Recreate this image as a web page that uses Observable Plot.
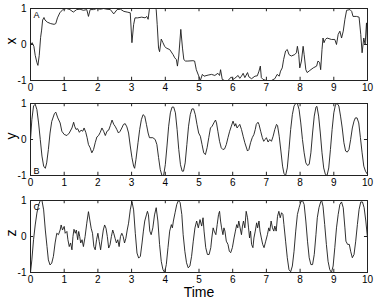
<!DOCTYPE html>
<html>
<head>
<meta charset="utf-8">
<script src="https://cdn.jsdelivr.net/npm/d3@7"></script>
<script src="https://cdn.jsdelivr.net/npm/@observablehq/plot@0.6"></script>
<style>
  html, body { margin: 0; padding: 0; background: #fff; }
  #chart svg { display: block; }
</style>
</head>
<body>
<div id="chart"></div>
<script>
const xTicks = [0, 1, 2, 3, 4, 5, 6, 7, 8, 9, 10];
const yTicks = [-1, 0, 1];
const panelLabels = ["x", "y", "z"];
const panelLetters = ["A", "B", "C"];
const xAxisTitle = "Time";

const seriesX = [[0,0.0],[0.05,0.05],[0.1,-0.05],[0.14,-0.3],[0.19,-0.5],[0.22,-0.58],[0.26,-0.3],[0.3,0.2],[0.33,0.4],[0.36,0.68],[0.4,0.75],[0.43,0.68],[0.5,0.62],[0.6,0.58],[0.7,0.56],[0.75,0.58],[0.8,0.74],[0.87,0.88],[0.97,0.98],[1.07,1.0],[1.17,0.97],[1.27,0.9],[1.37,0.97],[1.47,0.98],[1.57,0.95],[1.67,0.97],[1.72,0.78],[1.77,0.97],[1.87,0.97],[1.97,1.0],[2.07,0.98],[2.17,1.0],[2.27,0.98],[2.37,0.97],[2.47,0.85],[2.57,0.97],[2.67,0.98],[2.77,0.92],[2.87,0.9],[2.96,0.88],[3.01,0.05],[3.06,0.55],[3.1,0.74],[3.18,0.74],[3.3,0.76],[3.4,0.74],[3.45,0.78],[3.49,0.7],[3.53,1.0],[3.6,1.0],[3.7,1.0],[3.73,0.97],[3.76,0.55],[3.8,-0.1],[3.83,-0.2],[3.88,0.15],[3.93,0.05],[3.98,-0.05],[4.03,-0.1],[4.13,-0.14],[4.23,-0.28],[4.28,-0.37],[4.33,-0.42],[4.36,-0.6],[4.4,-0.32],[4.46,0.42],[4.51,-0.1],[4.55,-0.42],[4.6,-0.46],[4.67,-0.46],[4.82,-0.45],[4.87,-0.46],[4.92,-0.7],[4.99,-0.87],[5.04,-1.0],[5.1,-0.83],[5.15,-0.88],[5.27,-0.85],[5.37,-0.83],[5.47,-0.86],[5.56,-0.8],[5.61,-0.86],[5.64,-0.7],[5.69,-0.97],[5.76,-1.0],[5.86,-1.0],[5.96,-0.9],[6.01,-0.97],[6.06,-0.94],[6.16,-0.86],[6.21,-0.94],[6.26,-0.88],[6.31,-0.8],[6.36,-0.92],[6.44,-0.78],[6.48,-0.9],[6.56,-0.95],[6.66,-0.88],[6.73,-0.87],[6.78,-0.74],[6.82,-0.6],[6.85,-0.92],[6.9,-0.97],[7.0,-1.0],[7.15,-1.0],[7.25,-0.95],[7.32,-0.83],[7.38,-0.88],[7.42,-0.74],[7.47,-0.65],[7.51,-0.42],[7.57,-0.18],[7.62,-0.14],[7.67,-0.28],[7.74,-0.32],[7.84,-0.28],[7.89,-0.23],[7.92,-0.05],[7.96,-0.28],[7.99,-0.65],[8.04,-0.46],[8.09,-0.05],[8.12,-0.28],[8.17,-0.7],[8.21,-0.78],[8.29,-0.72],[8.39,-0.65],[8.49,-0.6],[8.53,-0.46],[8.58,-0.5],[8.61,-0.7],[8.65,-0.14],[8.68,0.18],[8.71,0.05],[8.75,0.14],[8.8,0.18],[8.93,0.14],[9.03,0.14],[9.08,0.0],[9.13,0.28],[9.18,0.37],[9.23,0.18],[9.28,0.37],[9.33,0.7],[9.38,0.95],[9.48,0.97],[9.53,0.92],[9.57,0.78],[9.67,0.78],[9.75,0.76],[9.8,0.28],[9.84,-0.23],[9.89,0.18],[9.93,0.0],[9.97,0.6],[10,0.0]];

const seriesY = [[0,0],[0.04,0.55],[0.09,0.93],[0.14,0.98],[0.19,0.83],[0.24,0.46],[0.29,0.0],[0.34,-0.46],[0.39,-0.74],[0.44,-0.8],[0.48,-0.65],[0.53,-0.28],[0.58,0.18],[0.63,0.5],[0.71,0.72],[0.75,0.76],[0.81,0.6],[0.88,0.46],[0.93,0.23],[1.0,0.14],[1.08,0.11],[1.15,0.18],[1.23,0.32],[1.28,0.48],[1.31,0.37],[1.35,0.28],[1.4,0.3],[1.45,0.2],[1.5,0.26],[1.55,0.23],[1.59,0.32],[1.64,0.2],[1.68,0.05],[1.72,-0.14],[1.77,-0.23],[1.82,-0.37],[1.87,-0.28],[1.92,-0.09],[1.97,0.07],[2.02,0.11],[2.07,0.2],[2.12,0.32],[2.17,0.23],[2.22,0.11],[2.27,0.23],[2.32,0.26],[2.37,0.39],[2.42,0.54],[2.47,0.42],[2.51,0.37],[2.56,0.28],[2.61,0.18],[2.66,0.23],[2.71,0.32],[2.76,0.42],[2.81,0.44],[2.86,0.35],[2.91,0.18],[2.96,-0.18],[3.01,-0.5],[3.06,-0.74],[3.09,-0.8],[3.13,-0.55],[3.19,-0.09],[3.24,0.28],[3.29,0.55],[3.34,0.69],[3.39,0.65],[3.44,0.42],[3.49,0.18],[3.53,0.05],[3.63,0.05],[3.7,0.0],[3.75,-0.14],[3.8,-0.5],[3.85,-0.83],[3.9,-1.0],[3.95,-1.0],[4.0,-0.7],[4.05,-0.18],[4.1,0.37],[4.15,0.74],[4.2,0.9],[4.25,0.9],[4.3,0.74],[4.35,0.28],[4.4,-0.28],[4.45,-0.7],[4.5,-0.88],[4.54,-0.88],[4.59,-0.65],[4.64,-0.14],[4.69,0.37],[4.74,0.69],[4.79,0.85],[4.84,0.85],[4.89,0.69],[4.94,0.42],[4.99,0.18],[5.04,0.09],[5.09,-0.14],[5.14,-0.37],[5.19,-0.42],[5.24,-0.23],[5.29,0.05],[5.34,0.32],[5.39,0.37],[5.44,0.46],[5.49,0.54],[5.52,0.46],[5.56,0.23],[5.61,-0.05],[5.66,-0.23],[5.71,-0.28],[5.76,-0.26],[5.81,-0.14],[5.86,0.05],[5.91,0.23],[5.96,0.37],[6.01,0.51],[6.06,0.37],[6.09,0.44],[6.13,0.32],[6.17,0.37],[6.21,0.42],[6.26,0.28],[6.31,0.09],[6.36,-0.09],[6.44,-0.32],[6.48,-0.28],[6.53,-0.09],[6.58,0.05],[6.63,0.14],[6.67,0.28],[6.7,0.42],[6.75,0.48],[6.78,0.42],[6.83,0.23],[6.88,0.05],[6.92,-0.05],[6.96,0.0],[7.0,0.05],[7.05,-0.07],[7.1,0.0],[7.15,-0.05],[7.2,0.09],[7.25,0.28],[7.3,0.42],[7.33,0.39],[7.38,0.09],[7.43,-0.32],[7.48,-0.74],[7.52,-0.94],[7.57,-1.0],[7.62,-0.79],[7.67,-0.28],[7.72,0.28],[7.77,0.69],[7.82,0.93],[7.87,1.0],[7.92,1.0],[7.97,0.83],[8.02,0.46],[8.07,0.0],[8.12,-0.37],[8.17,-0.65],[8.22,-0.72],[8.27,-0.69],[8.32,-0.37],[8.37,0.18],[8.42,0.65],[8.47,0.9],[8.5,0.92],[8.55,0.65],[8.6,0.18],[8.65,-0.37],[8.7,-0.79],[8.75,-0.97],[8.8,-1.0],[8.85,-0.79],[8.9,-0.28],[8.95,0.28],[9.0,0.74],[9.05,0.97],[9.1,1.0],[9.15,0.93],[9.2,0.65],[9.25,0.32],[9.3,-0.09],[9.35,-0.32],[9.4,-0.35],[9.45,-0.28],[9.5,0.0],[9.55,0.32],[9.6,0.51],[9.64,0.6],[9.69,0.6],[9.74,0.46],[9.79,0.05],[9.84,-0.37],[9.89,-0.74],[9.94,-0.88],[10,-0.97]];

const seriesZ = [[0,-1.0],[0.04,-0.65],[0.09,-0.09],[0.14,0.32],[0.19,0.65],[0.24,0.88],[0.29,1.0],[0.34,1.0],[0.39,0.74],[0.44,0.18],[0.49,-0.28],[0.53,-0.65],[0.58,-0.79],[0.63,-0.74],[0.68,-0.55],[0.73,-0.18],[0.78,0.09],[0.83,0.05],[0.88,0.18],[0.91,0.32],[0.95,0.18],[1.0,0.28],[1.03,0.09],[1.08,0.14],[1.11,-0.09],[1.15,-0.28],[1.19,-0.18],[1.23,-0.37],[1.26,0.0],[1.29,0.2],[1.33,0.09],[1.36,0.18],[1.4,-0.09],[1.43,0.14],[1.46,0.0],[1.49,-0.18],[1.53,-0.09],[1.57,-0.28],[1.62,0.0],[1.67,0.37],[1.72,0.69],[1.76,0.46],[1.8,0.23],[1.84,0.09],[1.88,-0.28],[1.92,-0.37],[1.96,-0.09],[2.0,0.09],[2.04,-0.14],[2.08,-0.37],[2.12,-0.09],[2.16,0.18],[2.2,0.32],[2.24,0.23],[2.28,0.0],[2.32,-0.32],[2.36,-0.23],[2.4,0.0],[2.44,0.18],[2.47,0.09],[2.51,-0.05],[2.55,-0.18],[2.59,-0.09],[2.63,-0.28],[2.67,0.0],[2.71,0.09],[2.75,0.0],[2.79,-0.18],[2.83,-0.05],[2.87,0.18],[2.91,0.37],[2.96,0.74],[3.01,0.97],[3.06,0.74],[3.11,0.09],[3.16,-0.46],[3.21,-0.6],[3.26,-0.55],[3.31,-0.18],[3.35,0.15],[3.39,0.43],[3.44,0.6],[3.47,0.7],[3.5,0.6],[3.54,0.15],[3.58,0.05],[3.63,0.24],[3.68,0.6],[3.73,0.8],[3.78,0.43],[3.83,-0.22],[3.88,-0.69],[3.93,-0.92],[3.98,-1.0],[4.03,-0.78],[4.08,-0.31],[4.13,0.15],[4.18,0.33],[4.21,0.24],[4.24,0.43],[4.29,0.66],[4.34,0.89],[4.39,1.0],[4.44,0.94],[4.49,0.61],[4.53,0.05],[4.58,-0.41],[4.63,-0.73],[4.68,-0.87],[4.73,-0.82],[4.78,-0.55],[4.83,-0.13],[4.88,0.24],[4.93,0.43],[4.98,0.24],[5.03,0.47],[5.08,0.29],[5.12,0.52],[5.15,0.15],[5.2,-0.31],[5.25,-0.5],[5.3,-0.5],[5.35,-0.31],[5.38,-0.04],[5.42,0.24],[5.45,0.15],[5.5,0.05],[5.54,0.33],[5.58,0.61],[5.61,0.7],[5.64,0.43],[5.67,0.24],[5.71,0.05],[5.74,0.24],[5.77,0.15],[5.81,-0.13],[5.86,-0.22],[5.9,-0.41],[5.94,-0.45],[5.99,-0.31],[6.04,-0.04],[6.08,0.15],[6.12,0.33],[6.15,0.24],[6.18,0.43],[6.22,0.24],[6.26,0.05],[6.29,0.29],[6.32,0.43],[6.36,0.24],[6.4,0.7],[6.44,0.52],[6.47,0.24],[6.5,-0.04],[6.53,0.15],[6.56,-0.22],[6.6,-0.31],[6.63,-0.04],[6.67,0.15],[6.71,0.38],[6.74,0.24],[6.78,0.43],[6.81,0.15],[6.85,-0.04],[6.89,-0.22],[6.93,-0.31],[6.98,-0.13],[7.03,0.05],[7.07,0.24],[7.1,0.15],[7.14,0.43],[7.18,0.24],[7.22,0.15],[7.25,0.29],[7.29,0.15],[7.33,0.56],[7.37,0.7],[7.41,0.52],[7.45,0.66],[7.49,0.61],[7.52,0.33],[7.57,-0.13],[7.62,-0.59],[7.67,-0.92],[7.72,-0.98],[7.77,-0.82],[7.82,-0.41],[7.87,0.15],[7.92,0.61],[7.97,0.8],[8.02,0.96],[8.07,1.0],[8.12,0.89],[8.17,0.43],[8.22,-0.13],[8.27,-0.59],[8.32,-0.78],[8.37,-0.78],[8.42,-0.5],[8.47,0.05],[8.51,0.52],[8.56,0.8],[8.61,0.96],[8.64,1.0],[8.68,0.84],[8.73,0.33],[8.78,-0.22],[8.83,-0.69],[8.88,-0.92],[8.93,-1.0],[8.98,-0.82],[9.03,-0.31],[9.08,0.24],[9.13,0.61],[9.18,0.89],[9.23,0.96],[9.28,0.8],[9.33,0.24],[9.36,-0.13],[9.41,-0.22],[9.46,-0.22],[9.5,-0.41],[9.55,-0.59],[9.6,-0.5],[9.65,-0.13],[9.7,0.33],[9.75,0.75],[9.8,0.96],[9.85,0.96],[9.9,0.8],[9.95,0.43],[10,-0.04]];

const FONT = "'Liberation Sans', Arial, Helvetica, sans-serif";

function panel(data, label, letter, letterPos, height, marginTop, marginBottom, withTitle) {
  const marks = [
    Plot.line(data, {x: d => d[0], y: d => d[1], stroke: "#1a1a1a", strokeWidth: 0.9}),
    Plot.frame({stroke: "#222", strokeWidth: 1}),
    Plot.ruleX(xTicks, {y1: -1, y2: -0.91, stroke: "#222", strokeWidth: 1}),
    Plot.ruleX(xTicks, {y1: 1, y2: 0.91, stroke: "#222", strokeWidth: 1}),
    Plot.ruleY(yTicks, {x1: 0, x2: 0.09, stroke: "#222", strokeWidth: 1}),
    Plot.ruleY(yTicks, {x1: 10, x2: 9.91, stroke: "#222", strokeWidth: 1}),
    Plot.axisX(xTicks, {tickSize: 0, tickPadding: 3, tickFormat: d => String(d), fontSize: 10, label: null}),
    Plot.axisY(yTicks, {tickSize: 0, tickPadding: 4, tickFormat: d => String(d), fontSize: 10, label: null}),
    Plot.text([label], {frameAnchor: "left", dx: -19, rotate: -90, fontSize: 14, text: d => d}),
    Plot.text([letter], {frameAnchor: letterPos === "top" ? "top-left" : "bottom-left", dx: 3, dy: letterPos === "top" ? 3 : -2, textAnchor: "start", lineAnchor: letterPos === "top" ? "top" : "bottom", fontSize: 9, text: d => d})
  ];
  if (withTitle) {
    marks.push(Plot.text([xAxisTitle], {frameAnchor: "bottom", dy: 15, lineAnchor: "top", fontSize: 14, text: d => d}));
  }
  return Plot.plot({
    width: 374,
    height,
    marginLeft: 30,
    marginRight: 7,
    marginTop,
    marginBottom,
    style: {fontFamily: FONT, fontSize: "10px", color: "#000", background: "#fff", overflow: "visible"},
    x: {domain: [0, 10]},
    y: {domain: [-1, 1]},
    marks
  });
}

const chart = document.getElementById("chart");
chart.appendChild(panel(seriesX, panelLabels[0], panelLetters[0], "top", 95, 8, 15, false));
chart.appendChild(panel(seriesY, panelLabels[1], panelLetters[1], "bottom", 98, 8, 18, false));
chart.appendChild(panel(seriesZ, panelLabels[2], panelLetters[2], "top", 108, 7, 29, true));
</script>
</body>
</html>
